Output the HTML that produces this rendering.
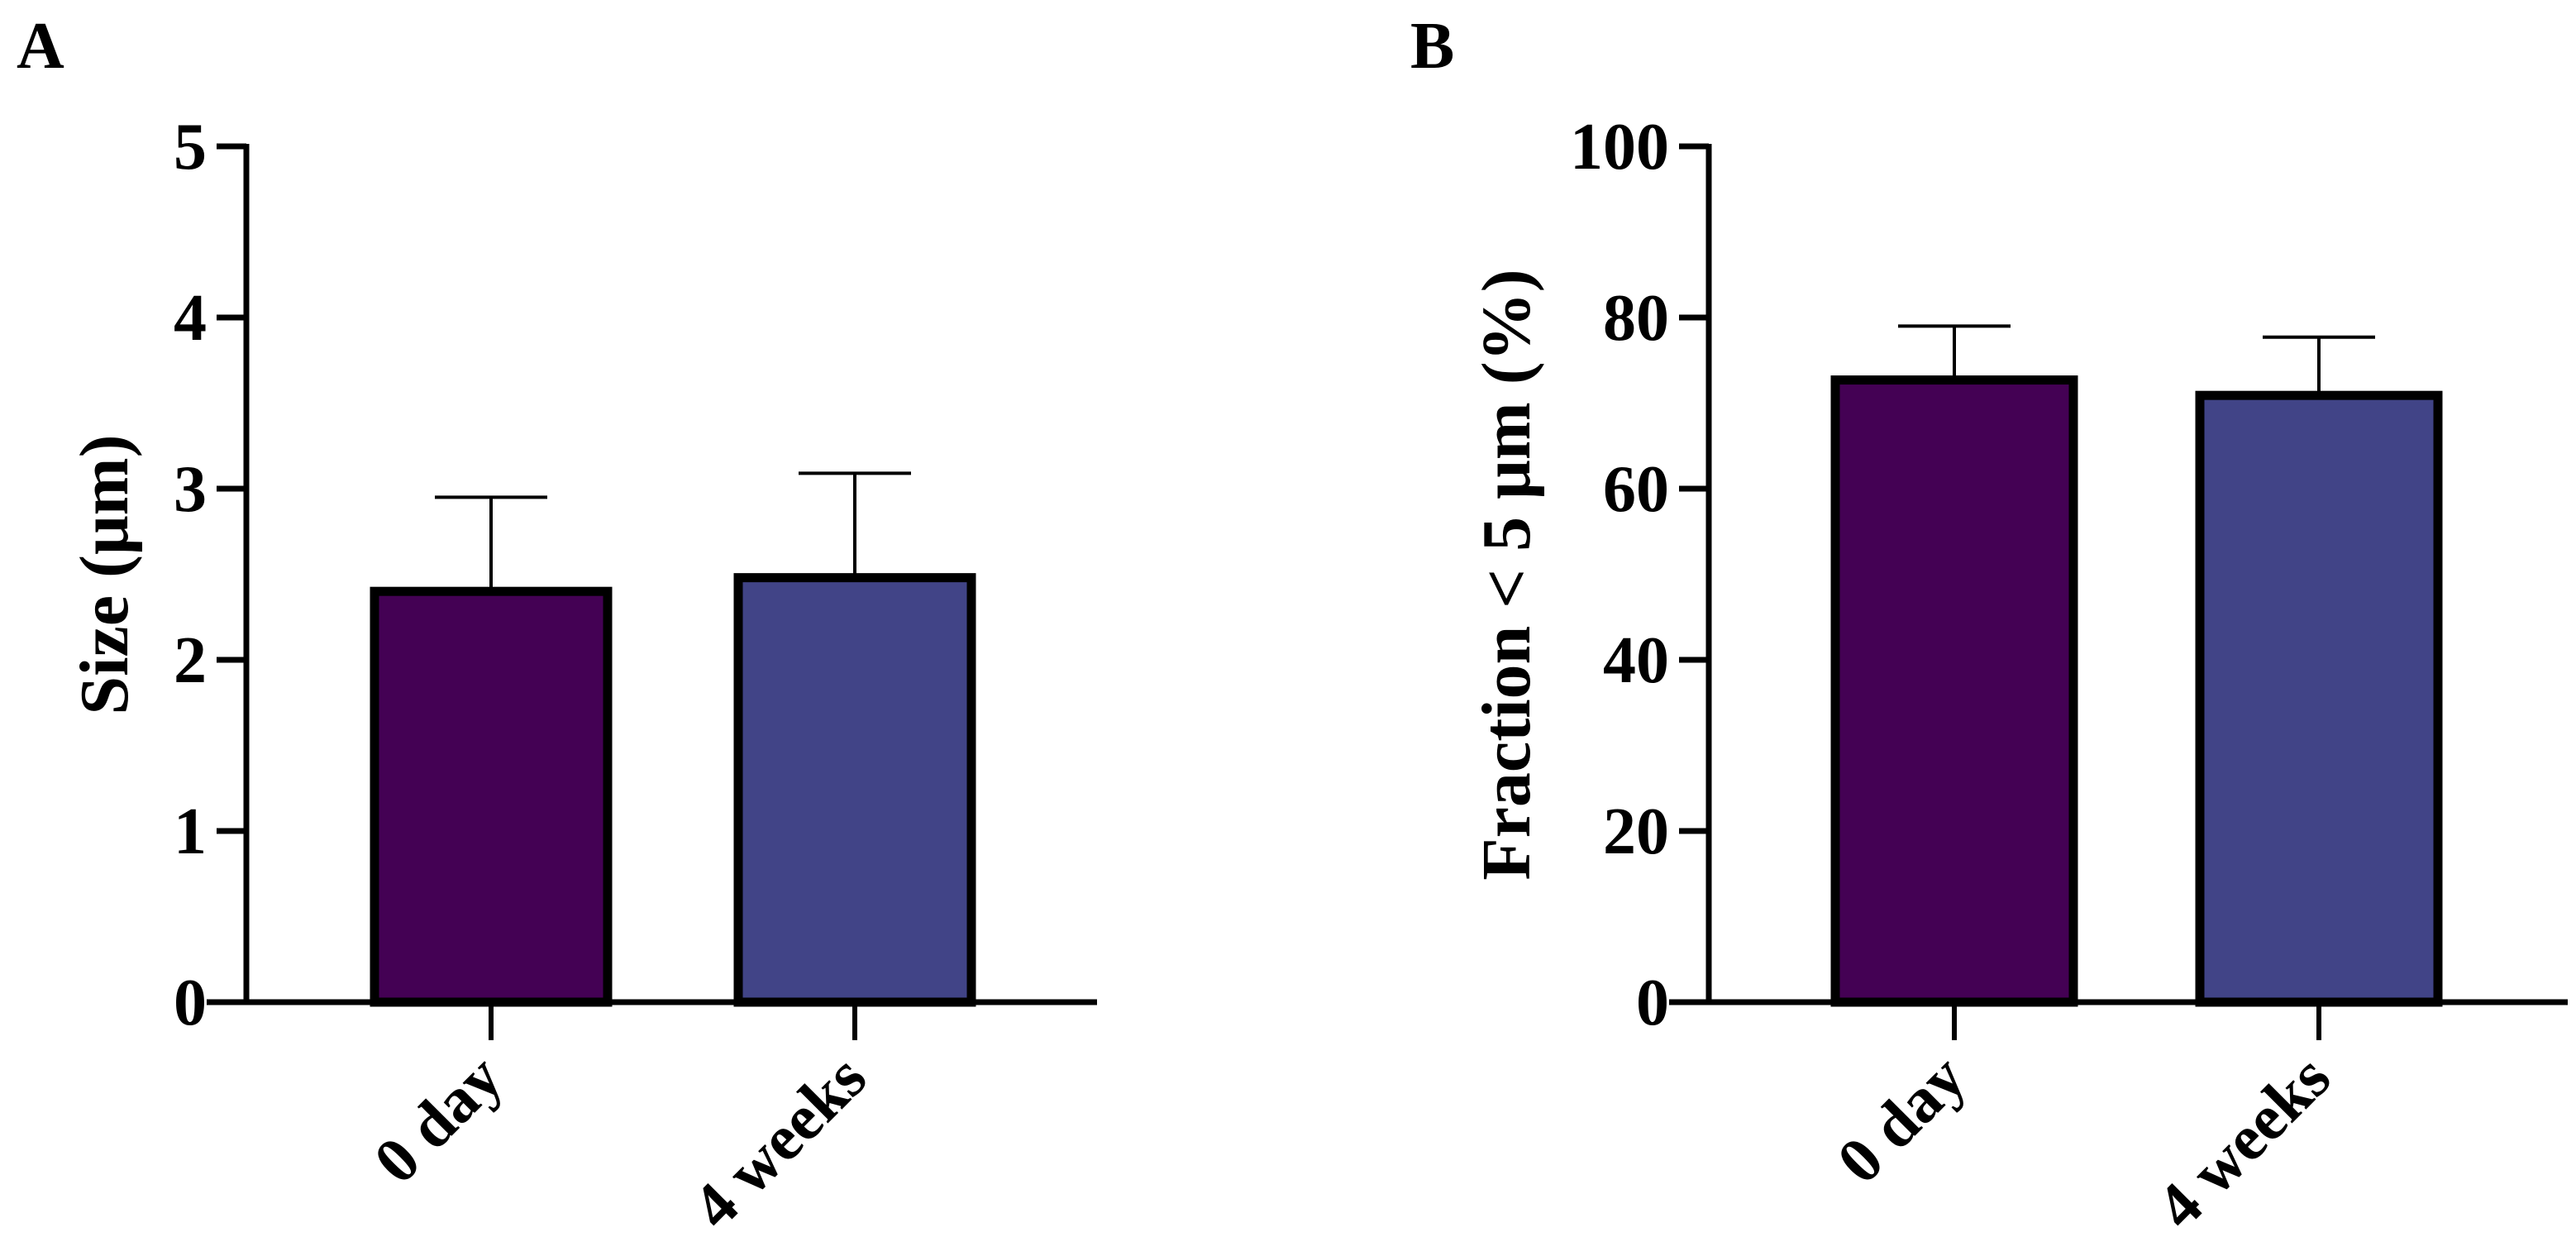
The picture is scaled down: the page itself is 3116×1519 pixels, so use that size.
<!DOCTYPE html>
<html><head><meta charset="utf-8"><style>
html,body{margin:0;padding:0;background:#fff;}
svg{display:block;font-family:"Liberation Serif","Times New Roman",serif;font-weight:bold;}
</style></head><body>
<svg id="fig" width="3116" height="1519" viewBox="0 0 3116 1519" xmlns="http://www.w3.org/2000/svg">
<text x="20" y="82" font-size="80">A</text>
<text x="1706" y="82" font-size="80">B</text>
<text transform="translate(154,695) rotate(-90)" text-anchor="middle" font-size="84">Size (μm)</text>
<text transform="translate(1850,695) rotate(-90)" text-anchor="middle" font-size="84">Fraction &lt; 5  μm (%)</text>
</svg>
<script>
const categories = ["0 day", "4 weeks"];
const sizeValues = [2.40, 2.48];
const sizeErrors = [0.55, 0.61];
const sizeTicks = [0, 1, 2, 3, 4, 5];
const fracValues = [72.7, 70.9];
const fracErrors = [6.3, 6.8];
const fracTicks = [0, 20, 40, 60, 80, 100];
const colors = ["#440154", "#414487"];

const svg = document.getElementById('fig');
const NS = 'http://www.w3.org/2000/svg';
function mk(tag, attrs){const e=document.createElementNS(NS,tag);for(const k in attrs)e.setAttribute(k,attrs[k]);svg.appendChild(e);return e;}

function chart(p, vals, errs, ticks, id){
  const yMax = ticks[ticks.length-1];
  const y = v => p.y0 - (v / yMax) * (p.y0 - p.yTop);
  const x = i => p.c0 + i * p.step;
  vals.forEach((v,i)=>{
    const cx = x(i);
    const eb = mk('line',{x1:cx,x2:cx,y1:y(v),y2:y(v+errs[i]),stroke:'#000','stroke-width':4});
    
    
    const cap = mk('line',{x1:cx-68,x2:cx+68,y1:y(v+errs[i]),y2:y(v+errs[i]),stroke:'#000','stroke-width':4});
    
    
    const r = mk('rect',{x:cx-p.bw/2,y:y(v),width:p.bw,height:p.y0-y(v),fill:colors[i],stroke:'#000','stroke-width':11});
    
    
    const t = mk('line',{x1:cx,x2:cx,y1:p.y0,y2:p.y0+46,stroke:'#000','stroke-width':6});
    
    
    const lb = mk('text',{transform:'translate('+(cx+18)+','+(p.y0+96)+') rotate(-45)','text-anchor':'end','font-size':78});
    lb.textContent = categories[i];
    
    
  });
  const ya = mk('line',{x1:p.ax,x2:p.ax,y1:p.yTop-3,y2:p.y0+3,stroke:'#000','stroke-width':7});
  
  
  const xa = mk('line',{x1:p.ax-48,x2:p.xEnd,y1:p.y0,y2:p.y0,stroke:'#000','stroke-width':7});
  
  
  ticks.forEach(tv=>{
    const tl = mk('line',{x1:p.ax-36,x2:p.ax,y1:y(tv),y2:y(tv),stroke:'#000','stroke-width':7});
    
    
    const tx = mk('text',{x:p.ax-48,y:y(tv)+27,'text-anchor':'end','font-size':80});
    tx.textContent = tv;
    
    
  });
}
chart({ax:298,y0:1212,yTop:177,c0:594,step:440,bw:282,xEnd:1327}, sizeValues, sizeErrors, sizeTicks, 'size');
chart({ax:2067,y0:1212,yTop:177,c0:2364,step:441,bw:288,xEnd:3106}, fracValues, fracErrors, fracTicks, 'fraction');
</script>
</body></html>
